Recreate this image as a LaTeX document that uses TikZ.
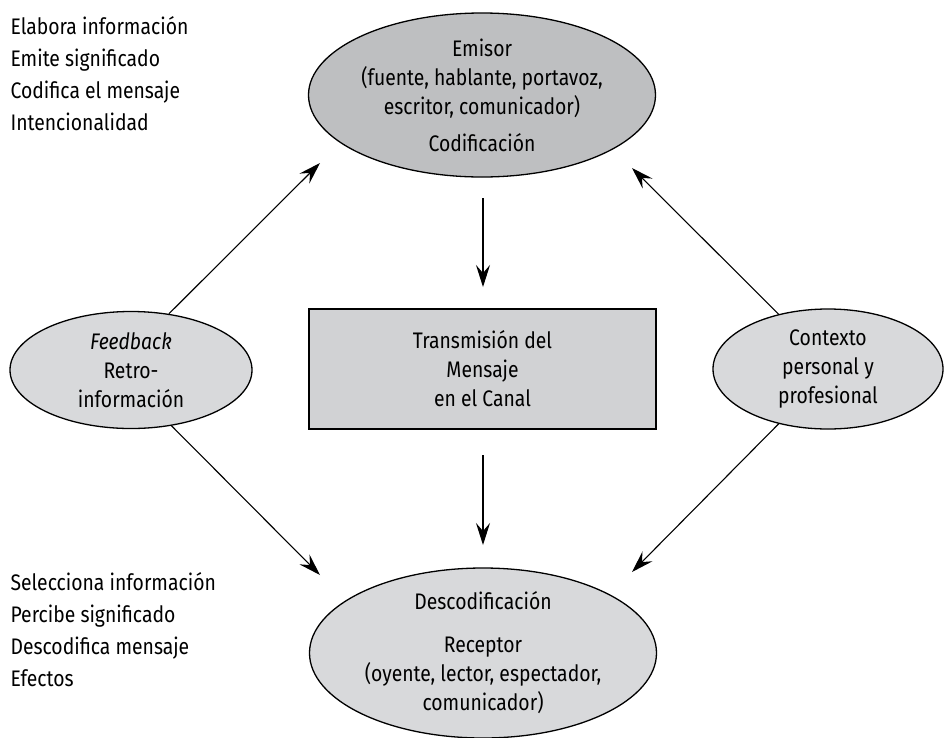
\documentclass[tikz,border=0pt]{standalone}
\usepackage{fontspec}
\setmainfont[FakeStretch=0.86]{Fira Sans}
\usetikzlibrary{shapes.geometric, arrows.meta}

\definecolor{darkgr}{RGB}{190,191,193}
\definecolor{lightgr}{RGB}{216,217,219}
\definecolor{boxgr}{RGB}{209,210,212}

\begin{document}
\begin{tikzpicture}[x=1pt, y=-1pt, line width=1.1pt,
   -{Stealth[length=22pt, width=14pt, inset=8pt]},
   every node/.style = {font=\fontsize{22.5}{29}\selectfont, align=center},
   oval/.style = {ellipse, draw, line width=1.3pt, inner xsep=0pt, inner ysep=-12pt},
   side/.style = {align=left, anchor=north west, inner sep=0pt,
                  font=\fontsize{22.5}{32}\selectfont}]
   \useasboundingbox (0,0) rectangle (945,737);

   \node[oval, fill=darkgr, minimum width=347pt, minimum height=164pt] (em) at (482,95)
      {Emisor\\(fuente, hablante, portavoz,\\escritor, comunicador)\\[8pt]Codificación};
   \node[draw, fill=boxgr, line width=1.3pt, minimum width=347pt, minimum height=120pt] (canal) at (482.5,369)
      {Transmisión del\\Mensaje\\en el Canal};
   \node[oval, fill=lightgr, minimum width=242pt, minimum height=117pt] (fb) at (131,370)
      {\textit{Feedback}\\Retro-\\información};
   \node[oval, fill=lightgr, minimum width=230pt, minimum height=120pt] (ctx) at (828,369)
      {Contexto\\personal y\\profesional};
   \node[oval, fill=lightgr, minimum width=347pt, minimum height=170pt] (rec) at (483,653)
      {Descodificación\\[14pt]Receptor\\(oyente, lector, espectador,\\comunicador)};

   \node[side] (emtxt) at (10,16)
      {Elabora información\\Emite significado\\Codifica el mensaje\\Intencionalidad};
   \node[side] (rectxt) at (10,572)
      {Selecciona información\\Percibe significado\\Descodifica mensaje\\Efectos};

   % free ends of the arrows
   \coordinate (ul) at (320,163);
   \coordinate (ur) at (632,168);
   \coordinate (dl) at (320,575);
   \coordinate (dr) at (632,572);
   \coordinate (a1) at (483,198);
   \coordinate (a2) at (483,287);
   \coordinate (b1) at (483,455);
   \coordinate (b2) at (483,545);

   \draw (a1) -- (a2);
   \draw (b1) -- (b2);
   \draw (fb.56) -- (ul);
   \draw (fb.-54) -- (dl);
   \draw (ctx.132) -- (ur);
   \draw (ctx.-132) -- (dr);
\end{tikzpicture}
\end{document}
